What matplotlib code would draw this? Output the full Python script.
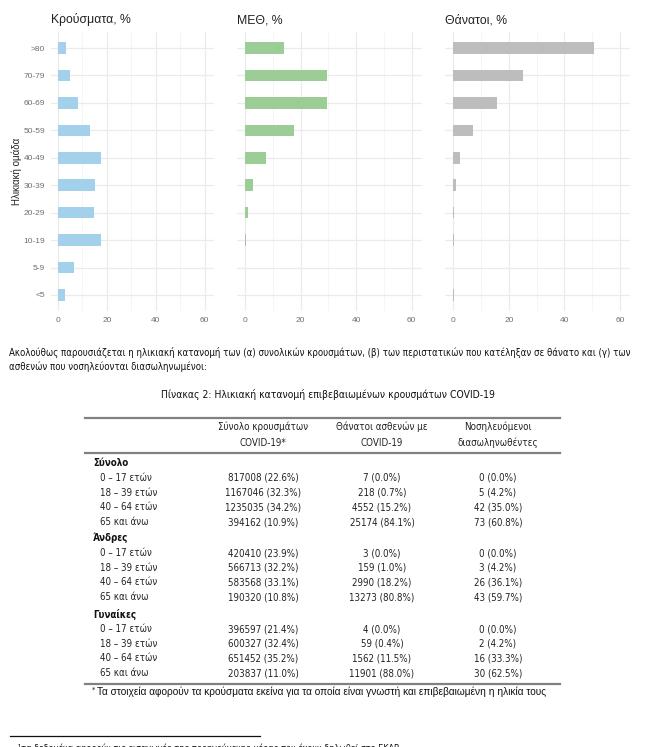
import matplotlib
matplotlib.use('Agg')
import matplotlib.pyplot as plt
from matplotlib import font_manager

W, H = 663, 747

# age groups, top to bottom as shown
age_groups = ['>80', '70-79', '60-69', '50-59', '40-49', '30-39', '20-29', '10-19', '5-9', '<5']
cases_pct = [3.2, 4.9, 8.2, 13.0, 17.5, 15.1, 14.7, 17.5, 6.5, 2.9]
icu_pct = [14.0, 29.5, 29.5, 17.6, 7.5, 2.7, 1.1, 0.3, 0.15, 0.15]
deaths_pct = [50.5, 25.1, 15.7, 7.1, 2.4, 0.8, 0.2, 0.1, 0.05, 0.1]

panel_titles = ['Κρούσματα, %', 'ΜΕΘ, %', 'Θάνατοι, %']
panel_colors = ['#a3d0ea', '#9ccd96', '#bdbdbd']
x_ticks = [0, 20, 40, 60]

# table data
col_headers = [['Σύνολο κρουσμάτων', 'COVID-19*'],
               ['Θάνατοι ασθενών με', 'COVID-19'],
               ['Νοσηλευόμενοι', 'διασωληνωθέντες']]
group_names = ['Σύνολο', 'Άνδρες', 'Γυναίκες']
row_labels = ['0 – 17 ετών', '18 – 39 ετών', '40 – 64 ετών', '65 και άνω']
tot_cases = [['817008 (22.6%)', '1167046 (32.3%)', '1235035 (34.2%)', '394162 (10.9%)'],
             ['420410 (23.9%)', '566713 (32.2%)', '583568 (33.1%)', '190320 (10.8%)'],
             ['396597 (21.4%)', '600327 (32.4%)', '651452 (35.2%)', '203837 (11.0%)']]
tot_deaths = [['7 (0.0%)', '218 (0.7%)', '4552 (15.2%)', '25174 (84.1%)'],
              ['3 (0.0%)', '159 (1.0%)', '2990 (18.2%)', '13273 (80.8%)'],
              ['4 (0.0%)', '59 (0.4%)', '1562 (11.5%)', '11901 (88.0%)']]
intubated = [['0 (0.0%)', '5 (4.2%)', '42 (35.0%)', '73 (60.8%)'],
             ['0 (0.0%)', '3 (4.2%)', '26 (36.1%)', '43 (59.7%)'],
             ['0 (0.0%)', '2 (4.2%)', '16 (33.3%)', '30 (62.5%)']]

# narrow font for the document text: condensed DejaVu if present, else Liberation Sans
cond_fp = font_manager.FontProperties(family='DejaVu Sans', stretch='condensed')
if 'Condensed' in font_manager.findfont(cond_fp):
    doc_font = dict(family='DejaVu Sans', stretch='condensed')
else:
    doc_font = dict(family='Liberation Sans')

fig = plt.figure(figsize=(W / 100, H / 100), dpi=100)

def fx(x):
    return x / W

def fy(y):
    return 1 - y / H

# ---- bar panels ----
lefts = [50.6, 236.7, 445.0]
widths = [163.0, 185.0, 185.0]
ax_top, ax_bot = 31.6, 311.4
series = [cases_pct, icu_pct, deaths_pct]
ypos = list(range(len(age_groups)))[::-1]

for i in range(3):
    ax = fig.add_axes([fx(lefts[i]), fy(ax_bot), fx(widths[i]), (ax_bot - ax_top) / H])
    ax.barh(ypos, series[i], height=0.42, color=panel_colors[i], zorder=2)
    ax.set_xlim(-3, 63.6)
    ax.set_ylim(-0.6, 9.6)
    ax.set_xticks(x_ticks)
    ax.set_xticks([10, 30, 50], minor=True)
    ax.set_yticks(ypos)
    ax.grid(True, which='major', color='#ebebeb', linewidth=0.9, zorder=0)
    ax.grid(True, which='minor', axis='x', color='#f2f2f2', linewidth=0.5, zorder=0)
    for s in ax.spines.values():
        s.set_visible(False)
    ax.tick_params(which='both', length=0, labelsize=6, labelcolor='#707070', pad=4)
    for lab in ax.get_xticklabels() + ax.get_yticklabels():
        lab.set_family('Liberation Sans')
    if i == 0:
        ax.set_yticklabels(age_groups, family='Liberation Sans')
        ax.set_ylabel('Ηλικιακή ομάδα', fontsize=7, color='#222222', labelpad=1, family='Liberation Sans')
    else:
        ax.set_yticklabels([])
    ax.set_title(panel_titles[i], loc='left', fontsize=8.8, color='#222222', pad=6, family='Liberation Sans')

# ---- text and table ----
fig.text(fx(9), fy(352), 'Ακολούθως παρουσιάζεται η ηλικιακή κατανομή των (α) συνολικών κρουσμάτων, (β) των περιστατικών που κατέληξαν σε θάνατο και (γ) των',
         fontsize=6.95, va='center', color='#111111', **doc_font)
fig.text(fx(9), fy(367), 'ασθενών που νοσηλεύονται διασωληνωμένοι:',
         fontsize=6.95, va='center', color='#111111', **doc_font)
fig.text(fx(328), fy(395), 'Πίνακας 2: Ηλικιακή κατανομή επιβεβαιωμένων κρουσμάτων COVID-19',
         fontsize=7.5, ha='center', va='center', color='#111111', **doc_font)

rule_x = [fx(85), fx(560)]
for yy in [418, 453, 684]:
    fig.add_artist(plt.Line2D(rule_x, [fy(yy), fy(yy)], color='#808080', linewidth=1.6))

col_x = [263, 382, 498]
for j, hdr in enumerate(col_headers):
    fig.text(fx(col_x[j]), fy(427), hdr[0], fontsize=7, ha='center', va='center', color='#222222', **doc_font)
    fig.text(fx(col_x[j]), fy(443), hdr[1], fontsize=7, ha='center', va='center', color='#222222', **doc_font)

group_y = [463, 538, 614]
for g, name in enumerate(group_names):
    y0 = group_y[g]
    fig.text(fx(93), fy(y0), name, fontsize=7, weight='bold', va='center', color='#111111', **doc_font)
    for r, lab in enumerate(row_labels):
        yy = y0 + 15 + r * 14.7
        fig.text(fx(100), fy(yy), lab, fontsize=7, va='center', color='#222222', **doc_font)
        fig.text(fx(col_x[0]), fy(yy), tot_cases[g][r], fontsize=7, ha='center', va='center', color='#222222', **doc_font)
        fig.text(fx(col_x[1]), fy(yy), tot_deaths[g][r], fontsize=7, ha='center', va='center', color='#222222', **doc_font)
        fig.text(fx(col_x[2]), fy(yy), intubated[g][r], fontsize=7, ha='center', va='center', color='#222222', **doc_font)

fig.text(fx(92), fy(690), '*', fontsize=5, va='center', color='#111111')
fig.text(fx(97), fy(692), 'Τα στοιχεία αφορούν τα κρούσματα εκείνα για τα οποία είναι γνωστή και επιβεβαιωμένη η ηλικία τους',
         fontsize=7.3, family='Liberation Sans', va='center', color='#111111')

# page footnote, cut at the bottom edge as in the source page
fig.add_artist(plt.Line2D([fx(10), fx(260)], [fy(736), fy(736)], color='#111111', linewidth=0.9))
fig.text(fx(18), fy(748), '¹τα δεδομένα αφορούν τις εισαγωγές της προηγούμενης μέρας που έχουν δηλωθεί στο ΕΚΑΒ',
         fontsize=6.5, va='center', color='#111111', **doc_font)

fig.savefig('out.png', dpi=100, facecolor='white')
